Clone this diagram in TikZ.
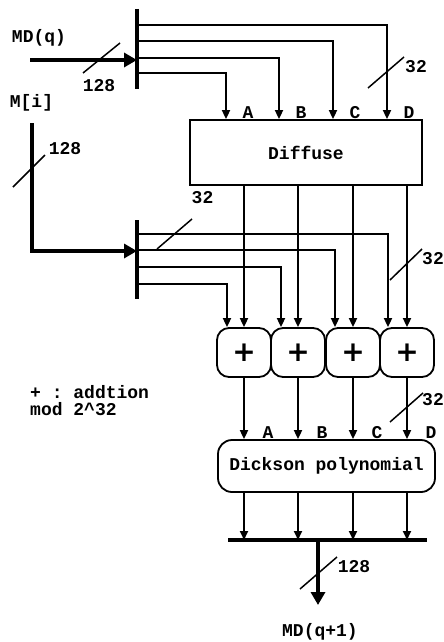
\documentclass[tikz,border=0pt]{standalone}
\usepackage{fontspec}
\setmonofont{Liberation Mono}
\newfontfamily\plusfont{DejaVu Sans}
\usetikzlibrary{arrows.meta}
\tikzset{
  wire/.style={line width=1.8pt, -{Triangle[width=8pt,length=9pt]}},
  fat/.style={line width=3.8pt, -{Triangle[width=14pt,length=13pt]}},
  bus/.style={line width=4.5pt},
  slash/.style={line width=1.5pt},
  lbl/.style={font=\ttfamily\bfseries\fontsize{18}{17.5}\selectfont, inner sep=0pt},
  blockbox/.style={draw, line width=1.8pt, inner sep=0pt, font=\ttfamily\bfseries\fontsize{18}{18}\selectfont},
  plusbox/.style={draw, line width=1.8pt, rounded corners=12pt, minimum width=54pt, minimum height=49pt, inner sep=0pt, font=\plusfont\bfseries\fontsize{28}{28}\selectfont},
}

\begin{document}
\begin{tikzpicture}[x=1pt,y=-1pt]
\useasboundingbox (0,0) rectangle (444,642);
% inputs and buses
\node[lbl] (mdq) at (39,38) {MD(q)};
\node[lbl] (mi) at (31.5,102.5) {M[i]};
\coordinate (b1t) at (137,9); \coordinate (b1b) at (137,89);
\coordinate (b2t) at (137,220); \coordinate (b2b) at (137,299);
\coordinate (ob1) at (228,540); \coordinate (ob2) at (427,540);
\coordinate (mdin) at (30,60); \coordinate (miin) at (32,123);
\draw[bus] (b1t) -- (b1b);
\draw[bus] (b2t) -- (b2b);
\draw[bus] (ob1) -- (ob2);
\draw[fat] (mdin) -- (b1t |- mdin);
\draw[fat] (miin) |- (b2t |- 0,251);
% blocks
\node[blockbox, minimum width=232pt, minimum height=65pt] (dif) at (306,152.5) {Diffuse};
\foreach \i/\x in {1/244,2/298,3/353,4/407}
  \node[plusbox] (p\i) at (\x,352.5) {+};
\node[blockbox, rounded corners=14pt, minimum width=217pt, minimum height=52pt] (dick) at (326.5,466) {Dickson polynomial};
% wires
\foreach \y/\x/\l in {73/226/A, 58/279/B, 41/333/C, 25/387/D} {
  \draw[wire] (b1t |- 0,\y) -| (dif.north -| \x,0);
  \node[lbl, anchor=south] (d\l) at (\x+22,119) {\l};
}
\foreach \i/\y/\x in {1/284/227, 2/267/281, 3/250/335, 4/234/388}
  \draw[wire] (b2t |- 0,\y) -| (p\i.north -| \x,0);
\foreach \i in {1,...,4} {
  \draw[wire] (dif.south -| p\i) -- (p\i.north);
  \draw[wire] (p\i.south) -- (dick.north -| p\i);
  \draw[wire] (dick.south -| p\i) -- (ob1 -| p\i);
}
\foreach \i/\l in {1/A,2/B,3/C,4/D}
  \node[lbl, anchor=south] (k\l) at ([xshift=24pt]dick.north -| p\i) {\l};
\coordinate (oc) at (318,540); \coordinate (oend) at (318,605);
\draw[fat] (oc) -- (oend);
\node[lbl] (mdq1) at (320,632) {MD(q+1)};
% bit widths
\draw[slash] (83,73) -- (120,43);  \node[lbl] (w1) at (99,85.5) {128};
\draw[slash] (13,187) -- (45,155); \node[lbl] (w2) at (65,149) {128};
\draw[slash] (368,88) -- (404,57); \node[lbl, anchor=west] (w3) at (405,67) {32};
\draw[slash] (157,249) -- (192,219); \node[lbl] (w4) at (202.5,197.5) {32};
\draw[slash] (390,280) -- (422,249); \node[lbl, anchor=west] (w5) at (422,259) {32};
\draw[slash] (390,422) -- (423,393); \node[lbl, anchor=west] (w6) at (422,400) {32};
\draw[slash] (300,589) -- (337,557); \node[lbl] (w7) at (354,567) {128};
% note
\node[lbl, align=left, anchor=north west] (note) at (30,385) {+ : addtion\\mod 2\textasciicircum 32};
\end{tikzpicture}
\end{document}
